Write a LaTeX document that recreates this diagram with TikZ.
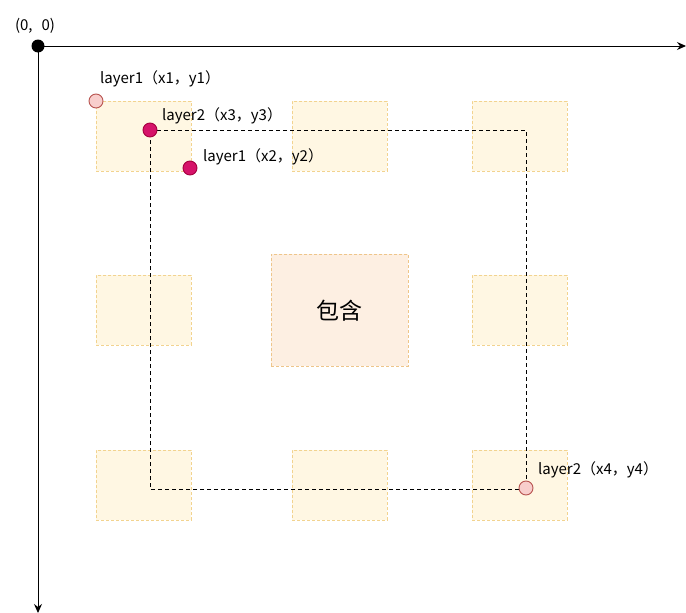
\documentclass[tikz,border=0pt]{standalone}
\usepackage{fontspec}
\setmainfont{Noto Sans CJK SC}
\usetikzlibrary{arrows.meta}
\definecolor{cellfill}{HTML}{FFF7E3}
\definecolor{celledge}{HTML}{F2D38F}
\definecolor{hubfill}{HTML}{FDEFE2}
\definecolor{hubedge}{HTML}{EEC58A}
\definecolor{pinkfill}{HTML}{F8CECC}
\definecolor{pinkedge}{HTML}{B85450}
\definecolor{dotfill}{HTML}{D6136A}
\definecolor{dotedge}{HTML}{A50040}
\tikzset{
  cell/.style={draw=celledge, fill=cellfill, dashed, dash pattern=on 3pt off 2pt, line width=0.6pt,
    minimum width=95pt, minimum height=70pt, inner sep=0pt, anchor=north west},
  hub/.style={draw=hubedge, fill=hubfill, dashed, dash pattern=on 3pt off 2pt, line width=0.6pt,
    minimum width=137pt, minimum height=112pt, inner sep=0pt, anchor=north west, font=\fontsize{23}{27}\selectfont},
  axis/.style={line width=1pt, -{Stealth[length=9pt,width=8pt,inset=3pt]}},
  bound/.style={dashed, dash pattern=on 4pt off 3pt, line width=0.9pt},
  pinkpt/.style={circle, draw=pinkedge, fill=pinkfill, line width=0.9pt, minimum size=14pt, inner sep=0pt},
  redpt/.style={circle, draw=dotedge, fill=dotfill, line width=0.9pt, minimum size=14pt, inner sep=0pt},
  tag/.style={anchor=west, inner sep=0pt, font=\fontsize{15}{18}\selectfont}
}
\begin{document}
\begin{tikzpicture}[x=1pt, y=-1pt]
\useasboundingbox (0,0) rectangle (686,613);
% grid of cells
\foreach \cx/\nm in {96/a, 292/b, 472/c}{
  \foreach \cy/\rw in {101/1, 275/2, 450/3}{
    \ifnum\rw=2 \ifx\nm b\else \node[cell] (cell\nm\rw) at (\cx,\cy) {};\fi
    \else \node[cell] (cell\nm\rw) at (\cx,\cy) {};\fi
  }
}
\node[hub] (hub) at (271,254) {包含};
% axes
\node[circle, fill=black, minimum size=13pt, inner sep=0pt] (origin) at (38,46) {};
\coordinate (xend) at (686,46);
\coordinate (yend) at (38,613);
\draw[axis] (origin.center) -- (xend);
\draw[axis] (origin.center) -- (yend);
\node[font=\fontsize{15}{18}\selectfont] (olabel) at (35,26) {(0,\hspace{9pt}0)};
% dashed bound
\coordinate (p3) at (150,130);
\coordinate (p4) at (526,489);
\draw[bound] (p3) -- (p3 -| p4) -- (p4) -- (p4 -| p3) -- cycle;
% points
\node[pinkpt] (pt1) at (96,101) {};
\node[redpt] (pt3) at (150,130) {};
\node[redpt] (pt2) at (190,168) {};
\node[pinkpt] (pt4) at (526,488) {};
\node[tag] (t1) at (100,79) {layer1（x1，y1）};
\node[tag] (t3) at (162,116) {layer2（x3，y3）};
\node[tag] (t2) at (203,157) {layer1（x2，y2）};
\node[tag] (t4) at (538,470) {layer2（x4，y4）};
\end{tikzpicture}
\end{document}
